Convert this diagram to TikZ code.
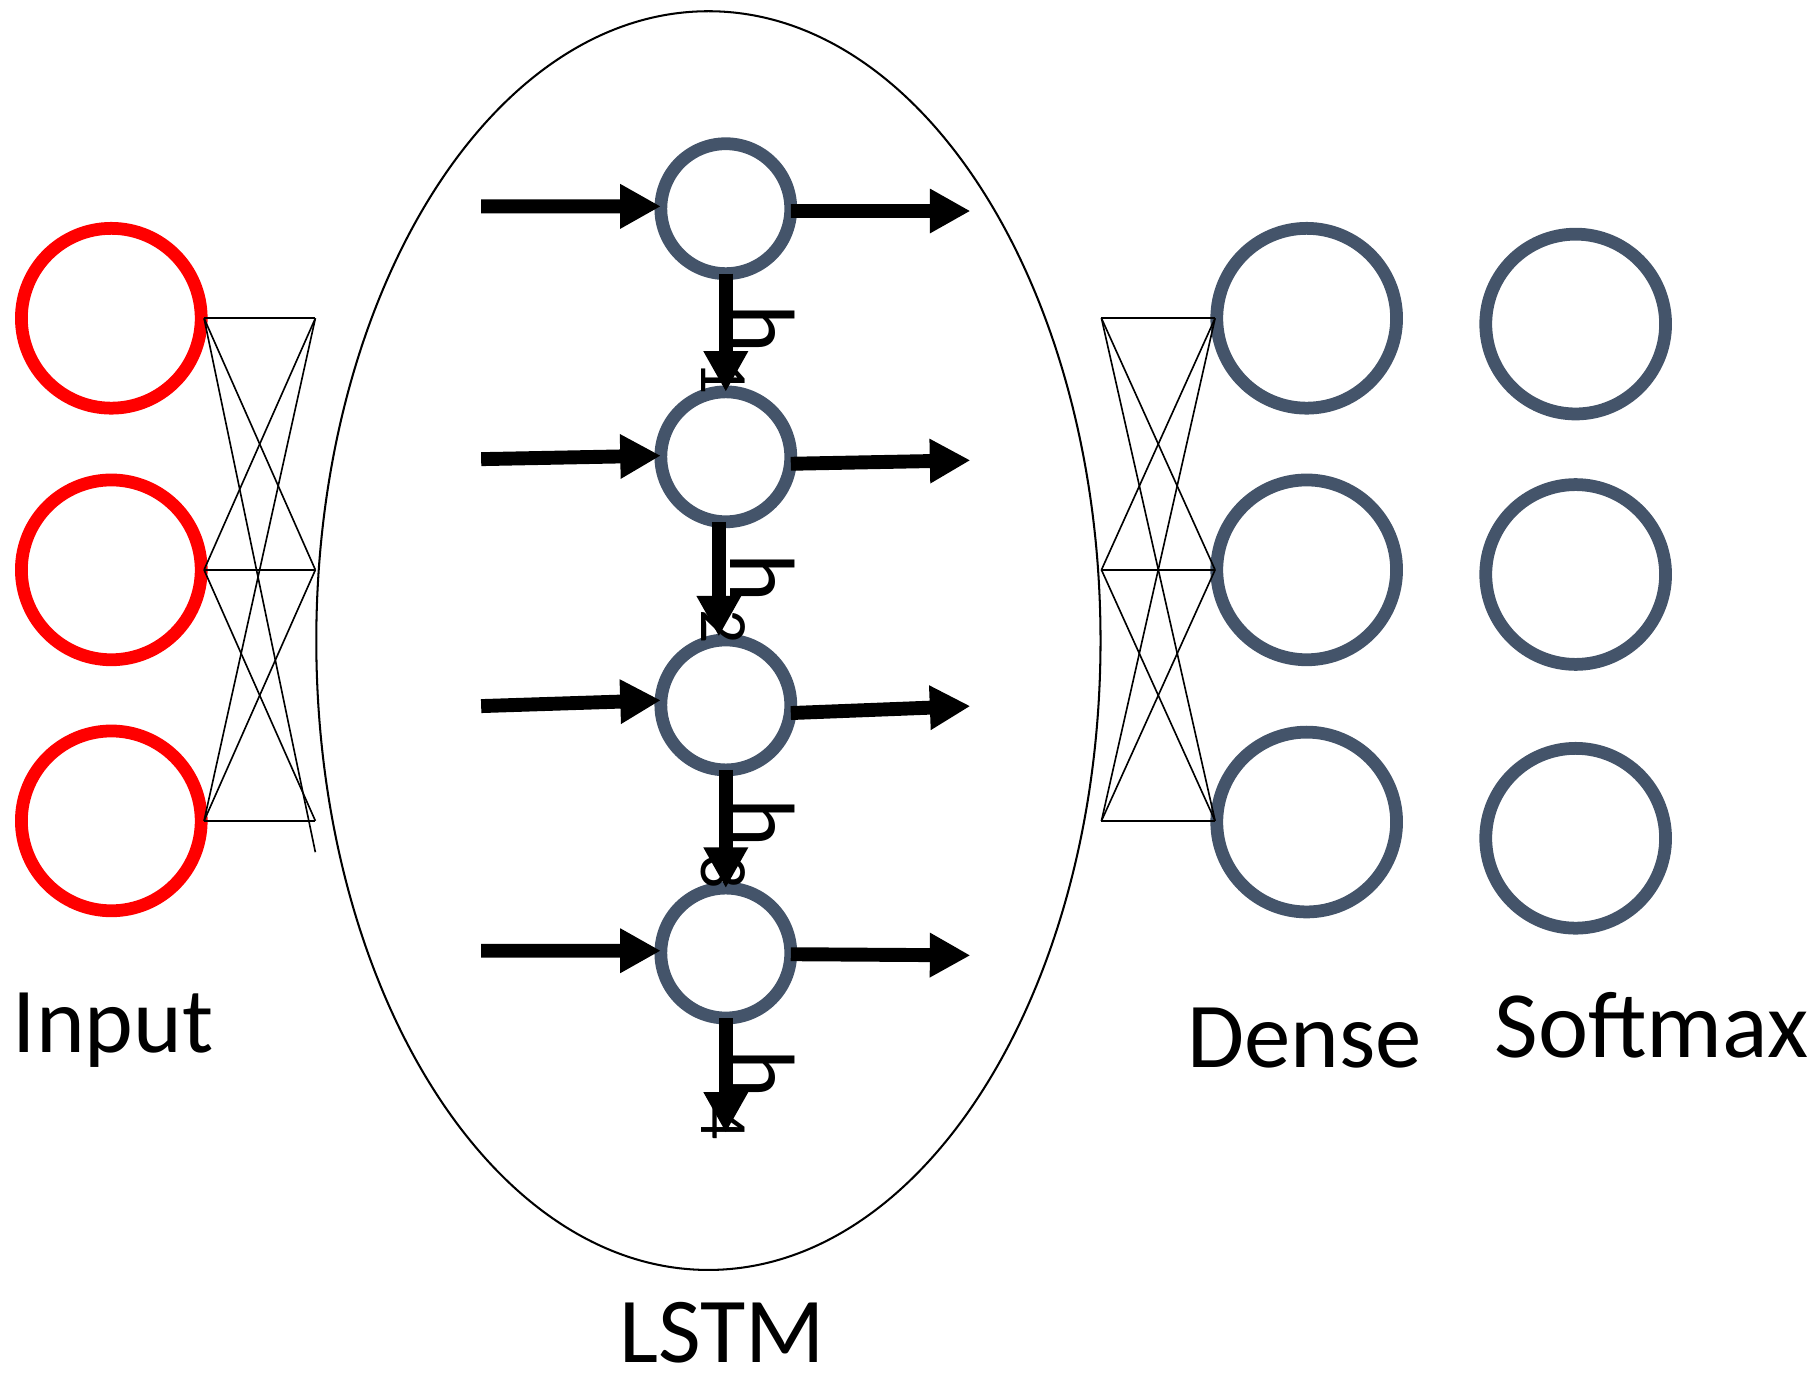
\documentclass[tikz,border=0pt]{standalone}
\usepackage{fontspec}
\setmainfont{Carlito}
\usetikzlibrary{arrows.meta,shapes.geometric}
\definecolor{slate}{HTML}{44546A}
\newcommand\hlab[1]{{\fontsize{22.76}{24}\selectfont h}\kern1.8pt\raisebox{-7.1pt}{\fontsize{16.6}{18}\selectfont #1}}
\begin{document}
\begin{tikzpicture}[x=0.01cm, y=-0.01cm,
  incirc/.style={circle, draw=red, line width=0.11cm, minimum size=1.55cm, inner sep=0, outer sep=0},
  outcirc/.style={circle, draw=slate, line width=0.11cm, minimum size=1.55cm, inner sep=0, outer sep=0},
  cell/.style={circle, draw=slate, line width=0.11cm, minimum size=1.12cm, inner sep=0, outer sep=0},
  fat/.style={line width=0.12cm, -{Triangle[length=0.35cm, width=0.36cm]}},
  thin/.style={line width=0.4pt},
  lbl/.style={font=\fontsize{22.76}{26}\selectfont, inner sep=0, anchor=base},
  hlabel/.style={rotate=-90, anchor=base west, inner sep=0}]
\useasboundingbox (0,0) rectangle (1568,1185);

% LSTM ellipse
\node[draw, ellipse, line width=0.5pt, minimum width=6.76cm, minimum height=10.85cm, inner sep=0] (lstm) at (611,552.5) {};

% input layer
\node[incirc] (i1) at (96,274.5) {};
\node[incirc] (i2) at (96,491.5) {};
\node[incirc] (i3) at (96,708) {};

% dense layer
\node[outcirc] (d1) at (1127,274.5) {};
\node[outcirc] (d2) at (1127,491.5) {};
\node[outcirc] (d3) at (1127,709) {};

% softmax layer
\node[outcirc] (s1) at (1359,279.5) {};
\node[outcirc] (s2) at (1359,495.5) {};
\node[outcirc] (s3) at (1359,723) {};

% LSTM cells
\node[cell] (c1) at (626,180) {};
\node[cell] (c2) at (626,394) {};
\node[cell] (c3) at (626,608) {};
\node[cell] (c4) at (626,822) {};

% left fully connected
\coordinate (L1) at (176,274.5);
\coordinate (L2) at (176,491.5);
\coordinate (L3) at (176,708);
\coordinate (R1) at (272,274.5);
\coordinate (R2) at (272,491.5);
\coordinate (R3) at (272,708);
\coordinate (Rx) at (272,735);
\draw[thin] (L1) -- (R1);
\draw[thin] (L1) -- (R2);
\draw[thin] (L1) -- (Rx);
\draw[thin] (L2) -- (R1);
\draw[thin] (L2) -- (R2);
\draw[thin] (L2) -- (R3);
\draw[thin] (L3) -- (R1);
\draw[thin] (L3) -- (R2);
\draw[thin] (L3) -- (R3);

% right fully connected
\coordinate (P1) at (950,274.5);
\coordinate (P2) at (950,491.5);
\coordinate (P3) at (950,708);
\coordinate (Q1) at (1048,274.5);
\coordinate (Q2) at (1048,491.5);
\coordinate (Q3) at (1048,708);
\foreach \a in {P1,P2,P3}{
  \foreach \b in {Q1,Q2,Q3}{
    \draw[thin] (\a) -- (\b);
  }
}

% input arrows
\coordinate (a1) at (415,178);
\coordinate (a2) at (415,396);
\coordinate (a3) at (415,609);
\coordinate (a4) at (415,820);
\draw[fat] (a1) -- ([yshift=0.02cm]c1.west);
\draw[fat] (a2) -- ([yshift=0.01cm]c2.west);
\draw[fat] (a3) -- ([yshift=0.04cm]c3.west);
\draw[fat] (a4) -- ([yshift=0.02cm]c4.west);

% output arrows
\coordinate (b1) at (837,182);
\coordinate (b2) at (837,397);
\coordinate (b3) at (837,609);
\coordinate (b4) at (837,824);
\draw[fat] ([yshift=-0.02cm]c1.east) -- (b1);
\draw[fat] ([yshift=-0.06cm]c2.east) -- (b2);
\draw[fat] ([yshift=-0.07cm]c3.east) -- (b3);
\draw[fat] ([yshift=-0.01cm]c4.east) -- (b4);

% recurrent arrows
\coordinate (e4) at (626,977);
\draw[fat] (c1.south) -- (c2.north);
\draw[fat] ([xshift=-0.06cm]c2.south) -- ([xshift=-0.06cm, yshift=0.03cm]c3.north);
\draw[fat] (c3.south) -- (c4.north);
\draw[fat] (c4.south) -- (e4);

% h labels
\node[hlabel] (h1) at (630,261.5) {\hlab{1}};
\node[hlabel] (h2) at (630,477) {\hlab{2}};
\node[hlabel] (h3) at (630,687.7) {\hlab{3}};
\node[hlabel] (h4) at (630,904.8) {\hlab{4}};

% layer labels
\node[lbl] (tin) at (97.5,908) {Input};
\node[lbl] (tlstm) at (622.8,1175.5) {LSTM};
\node[lbl] (tdense) at (1125,921) {Dense};
\node[lbl, font=\fontsize{23.3}{26}\selectfont] (tsoft) at (1424.5,912) {Softmax};
\end{tikzpicture}
\end{document}
